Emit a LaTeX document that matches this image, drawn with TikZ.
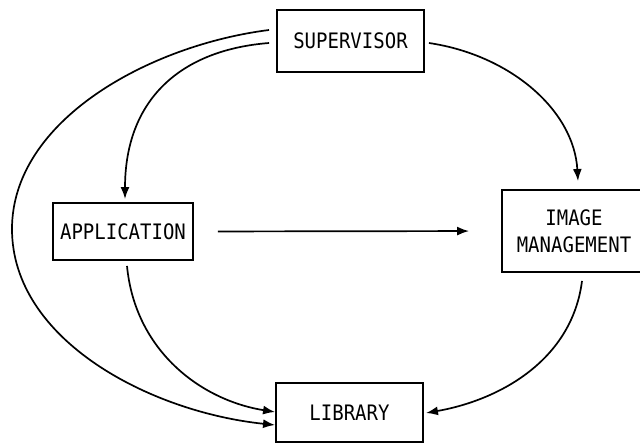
\documentclass[tikz,border=0pt]{standalone}
\usepackage{fontspec}
\setmonofont{DejaVu Sans Mono}
\usetikzlibrary{arrows.meta}
\newcommand{\tallt}[1]{\scalebox{1}[1.12]{#1}}
\begin{document}
\begin{tikzpicture}[x=1pt,y=-1pt,
  box/.style={draw,line width=1.9pt,rectangle,inner sep=0pt,align=center,
    font=\ttfamily\fontsize{19}{27}\selectfont},
  conn/.style={line width=1.7pt,-{Latex[length=12pt,width=9pt]}}]
\useasboundingbox (0,0) rectangle (640,443);
\clip (0,0) rectangle (640,443);
\node[box,minimum width=147pt,minimum height=62pt] (sup) at (350.5,41) {\tallt{SUPERVISOR}};
\node[box,minimum width=140pt,minimum height=57pt] (app) at (123,231.5) {\tallt{APPLICATION}};
\node[box,minimum width=144pt,minimum height=82pt] (img) at (574,231) {\tallt{IMAGE}\\\tallt{MANAGEMENT}};
\node[box,minimum width=147pt,minimum height=59pt] (lib) at (349.5,412.5) {\tallt{LIBRARY}};
% supervisor -> library (outer loop)
\draw[conn] ([xshift=-7pt,yshift=11pt]sup.west) .. controls (150,45) and (12,120) .. (12,229)
  .. controls (12,340) and (150,412) .. ([yshift=-12.5pt]lib.west);
% supervisor -> application
\draw[conn] ([xshift=-7pt,yshift=-2pt]sup.west) .. controls (180,50) and (125,100) .. ([xshift=2pt,yshift=3pt]app.north);
% supervisor -> image management
\draw[conn] ([xshift=4pt,yshift=-2pt]sup.east) .. controls (510,55) and (574,110) .. ([xshift=4pt,yshift=8pt]img.north);
% application -> image management
\draw[conn,shorten <=24pt,shorten >=32pt] (app.east) -- (img.west);
% application -> library
\draw[conn] ([xshift=4pt,yshift=-5pt]app.south) .. controls (135,350) and (200,400) .. ([yshift=0.5pt]lib.west);
% image management -> library
\draw[conn] ([xshift=8pt,yshift=-8pt]img.south) .. controls (572,360) and (500,400) .. ([xshift=2pt,yshift=-0.5pt]lib.east);
\end{tikzpicture}
\end{document}
